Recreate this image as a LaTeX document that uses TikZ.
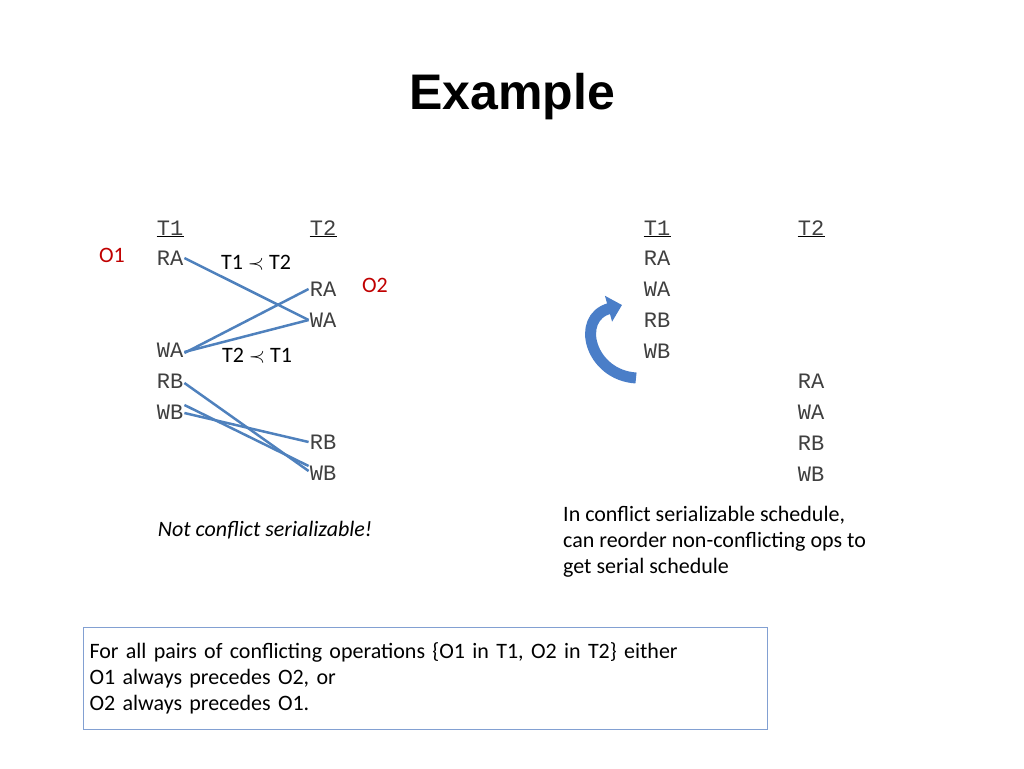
\documentclass[tikz,border=0pt]{standalone}
\usepackage{fontspec}
\setmainfont{Carlito}
\setmonofont{Liberation Mono}
\newfontfamily\titlefont{Liberation Sans}
\usetikzlibrary{positioning,arrows.meta}
\tikzset{
op/.style={font=\fontsize{22}{26}\selectfont\ttfamily,text=black!75,inner sep=1pt},
hd/.style={op,label={[inner sep=0pt,text height=0pt,text depth=0pt]below:{\rule{27pt}{0.8pt}}}},
lbl/.style={font=\fontsize{22}{26}\selectfont,inner sep=1pt},
cf/.style={draw=blue!45!gray!95!black,line width=2.5pt,color={rgb,255:red,79;green,129;blue,189}}
}
\begin{document}
\begin{tikzpicture}[x=1pt,y=-1pt]
\useasboundingbox (0,0) rectangle (1024,768);
\node[font=\fontsize{50}{56}\selectfont\bfseries\titlefont] (title) at (512,97) {Example};
% left schedule
\node[hd] (aT1) at (170,228) {T1};
\node[hd] (aT2) at (323,228) {T2};
\node[op] (aRA1) at (170,258) {RA};
\node[op] (aWA1) at (170,350) {WA};
\node[op] (aRB1) at (170,381) {RB};
\node[op] (aWB1) at (170,412) {WB};
\node[op] (aRA2) at (323,289) {RA};
\node[op] (aWA2) at (323,320) {WA};
\node[op] (aRB2) at (323,442) {RB};
\node[op] (aWB2) at (323,473) {WB};
\node[lbl,text={rgb,255:red,192;green,0;blue,0}] (o1) at (112,255) {O1};
\node[lbl,text={rgb,255:red,192;green,0;blue,0}] (o2) at (375,285) {O2};
\node[lbl] (p12) at (256,263) {T1 $\prec$ T2};
\node[lbl] (p21) at (257,356) {T2 $\prec$ T1};
\draw[cf] (aRA1.east) -- (aWA2.west);
\draw[cf] (aRA2.west) -- ([yshift=-3]aWA1.east);
\draw[cf] ([yshift=-2]aWA1.east) -- (aWA2.west);
\draw[cf] ([yshift=-2]aRB1.east) -- ([yshift=2]aWB2.west);
\draw[cf] ([yshift=-1]aWB1.east) -- (aRB2.west);
\draw[cf] ([yshift=7]aWB1.east) -- ([yshift=7]aWB2.west);
\node[lbl,font=\fontsize{22}{26}\selectfont\itshape] (notcs) at (265,530) {Not conflict serializable!};
% right schedule
\node[hd] (bT1) at (657,228) {T1};
\node[hd] (bT2) at (811,228) {T2};
\node[op] (bRA1) at (657,258) {RA};
\node[op] (bWA1) at (657,289) {WA};
\node[op] (bRB1) at (657,320) {RB};
\node[op] (bWB1) at (657,351) {WB};
\node[op] (bRA2) at (811,381) {RA};
\node[op] (bWA2) at (811,412) {WA};
\node[op] (bRB2) at (811,443) {RB};
\node[op] (bWB2) at (811,474) {WB};
\coordinate (cs) at (636,378);
\coordinate (ce) at (637,300);
\draw[line width=11pt,color={rgb,255:red,74;green,126;blue,200},-{Triangle[length=14pt,width=26pt]}]
  (cs) .. controls (590,375) and (575,318) .. (622,305);
\node[lbl,anchor=west,align=left] (note) at (562,542) {In conflict serializable schedule,\\can reorder non-conflicting ops to\\get serial schedule};
\node[lbl,draw={rgb,255:red,130;green,160;blue,210},line width=1pt,anchor=north west,align=left,
  text width=672pt,inner sep=6pt,minimum height=102pt] (rule) at (83,627)
  {For all pairs of conflicting operations \{O1 in T1, O2 in T2\} either\\O1 always precedes O2, or\\O2 always precedes O1.};
\end{tikzpicture}
\end{document}
